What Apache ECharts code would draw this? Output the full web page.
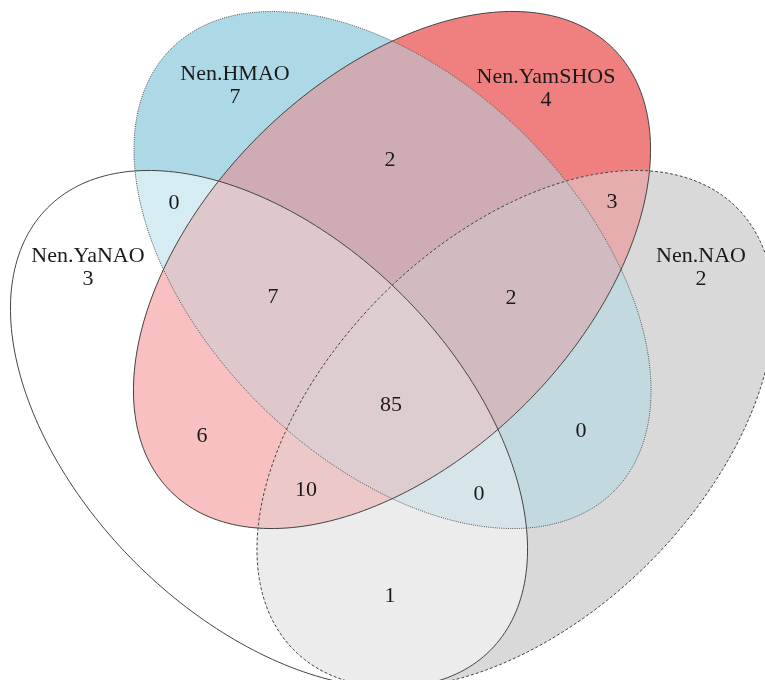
<!DOCTYPE html>
<html>
<head>
<meta charset="utf-8">
<script src="https://cdn.jsdelivr.net/npm/echarts@6/dist/echarts.min.js"></script>
<style>
html,body{margin:0;padding:0;background:#ffffff;}
#chart{width:765px;height:680px;}
</style>
</head>
<body>
<div id="chart"></div>
<script>
// ---------------- data ----------------
const setNames = ['Nen.YaNAO', 'Nen.HMAO', 'Nen.YamSHOS', 'Nen.NAO'];
// each region = exact membership (indices into setNames)
const regionSets = [
  [0], [1], [2], [3],
  [0, 1], [1, 2], [2, 3], [0, 2], [1, 3], [0, 3],
  [0, 1, 2], [1, 2, 3], [0, 2, 3], [0, 1, 3],
  [0, 1, 2, 3]
];
const regionCounts = [3, 7, 4, 2, 0, 2, 3, 6, 0, 1, 7, 2, 10, 0, 85];

// ---------------- layout (plot units) ----------------
const layout = {
  cx: [269, 392.5, 392, 515.5],
  cy: [429, 270, 270, 429],
  a: 313,
  b: 189,
  rot: [45, 45, -45, -45],
  labelPos: [
    [88, 268], [235, 86], [546, 89], [701, 268],
    [174, 203], [390, 160], [612, 202], [202, 436], [581, 431], [390, 596],
    [273, 297], [511, 298], [306, 490], [479, 494],
    [391, 405]
  ]
};

// ---------------- styles ----------------
const setColors = [[255, 255, 255], [173, 216, 230], [240, 128, 128], [217, 217, 217]];
const outlineDash = ['solid', [1, 1.2], 'solid', [3, 2]];
const outlineColor = ['#444', '#555', '#444', '#444'];
const textColor = '#1a1a1a';
const fontFamily = '"Liberation Serif", "DejaVu Serif", serif';

function regionColor(members) {
  const c = [0, 0, 0];
  members.forEach(function (m) { for (let k = 0; k < 3; k++) c[k] += setColors[m][k]; });
  return 'rgb(' + c.map(function (v) { return Math.round(v / members.length); }).join(',') + ')';
}

function ellipsePts(i, api) {
  const pts = [];
  const N = 260;
  const th = layout.rot[i] * Math.PI / 180, c = Math.cos(th), s = Math.sin(th);
  for (let k = 0; k < N; k++) {
    const t = 2 * Math.PI * k / N;
    const ex = layout.a * Math.cos(t), ey = layout.b * Math.sin(t);
    pts.push(api.coord([layout.cx[i] + ex * c - ey * s, layout.cy[i] + ex * s + ey * c]));
  }
  return pts;
}

// Sutherland-Hodgman clipping against a convex polygon
function clipPoly(subject, clip) {
  let area = 0;
  for (let i = 0; i < clip.length; i++) {
    const p = clip[i], q = clip[(i + 1) % clip.length];
    area += p[0] * q[1] - q[0] * p[1];
  }
  const sg = area > 0 ? 1 : -1;
  let output = subject;
  for (let i = 0; i < clip.length && output.length; i++) {
    const a = clip[i], b = clip[(i + 1) % clip.length];
    const inside = function (p) {
      return sg * ((b[0] - a[0]) * (p[1] - a[1]) - (b[1] - a[1]) * (p[0] - a[0])) >= 0;
    };
    const inter = function (p, q) {
      const x1 = p[0], y1 = p[1], x2 = q[0], y2 = q[1];
      const x3 = a[0], y3 = a[1], x4 = b[0], y4 = b[1];
      const den = (x1 - x2) * (y3 - y4) - (y1 - y2) * (x3 - x4);
      if (Math.abs(den) < 1e-12) return [x2, y2];
      const t = ((x1 - x3) * (y3 - y4) - (y1 - y3) * (x3 - x4)) / den;
      return [x1 + t * (x2 - x1), y1 + t * (y2 - y1)];
    };
    const input = output;
    output = [];
    for (let j = 0; j < input.length; j++) {
      const cur = input[j], prev = input[(j + input.length - 1) % input.length];
      const ci = inside(cur), pi = inside(prev);
      if (ci) {
        if (!pi) output.push(inter(prev, cur));
        output.push(cur);
      } else if (pi) {
        output.push(inter(prev, cur));
      }
    }
  }
  return output;
}

const chart = echarts.init(document.getElementById('chart'), null, { renderer: 'canvas' });

const option = {
  animation: false,
  backgroundColor: '#ffffff',
  grid: { left: 0, right: 0, top: 0, bottom: 0 },
  xAxis: { type: 'value', min: 0, max: 765, show: false },
  yAxis: { type: 'value', min: 0, max: 680, inverse: true, show: false },
  series: [
    {
      name: 'regions',
      type: 'custom',
      coordinateSystem: 'cartesian2d',
      clip: true,
      silent: true,
      data: regionSets.map(function (s, i) { return [i, regionCounts[i]]; }),
      renderItem: function (params, api) {
        const members = regionSets[params.dataIndex];
        let poly = ellipsePts(members[0], api);
        for (let m = 1; m < members.length; m++) {
          poly = clipPoly(poly, ellipsePts(members[m], api));
        }
        return {
          type: 'polygon',
          shape: { points: poly },
          style: { fill: regionColor(members), stroke: null }
        };
      }
    },
    {
      name: 'outlines',
      type: 'custom',
      coordinateSystem: 'cartesian2d',
      clip: true,
      silent: true,
      data: setNames.map(function (n, i) { return [i, 0]; }),
      renderItem: function (params, api) {
        const i = params.dataIndex;
        return {
          type: 'polygon',
          shape: { points: ellipsePts(i, api) },
          style: {
            fill: null,
            stroke: outlineColor[i],
            lineWidth: 1,
            lineDash: outlineDash[i]
          }
        };
      }
    },
    {
      name: 'labels',
      type: 'custom',
      coordinateSystem: 'cartesian2d',
      silent: true,
      data: regionSets.map(function (s, i) { return [i, regionCounts[i]]; }),
      renderItem: function (params, api) {
        const i = params.dataIndex;
        const members = regionSets[i];
        const p = api.coord(layout.labelPos[i]);
        const txt = members.length === 1
          ? setNames[members[0]] + '\n' + regionCounts[i]
          : String(regionCounts[i]);
        return {
          type: 'text',
          x: p[0],
          y: p[1],
          style: {
            text: txt,
            fill: textColor,
            fontSize: 22,
            fontFamily: fontFamily,
            lineHeight: 23,
            align: 'center',
            verticalAlign: 'middle'
          }
        };
      }
    }
  ]
};

chart.setOption(option);
</script>
</body>
</html>
